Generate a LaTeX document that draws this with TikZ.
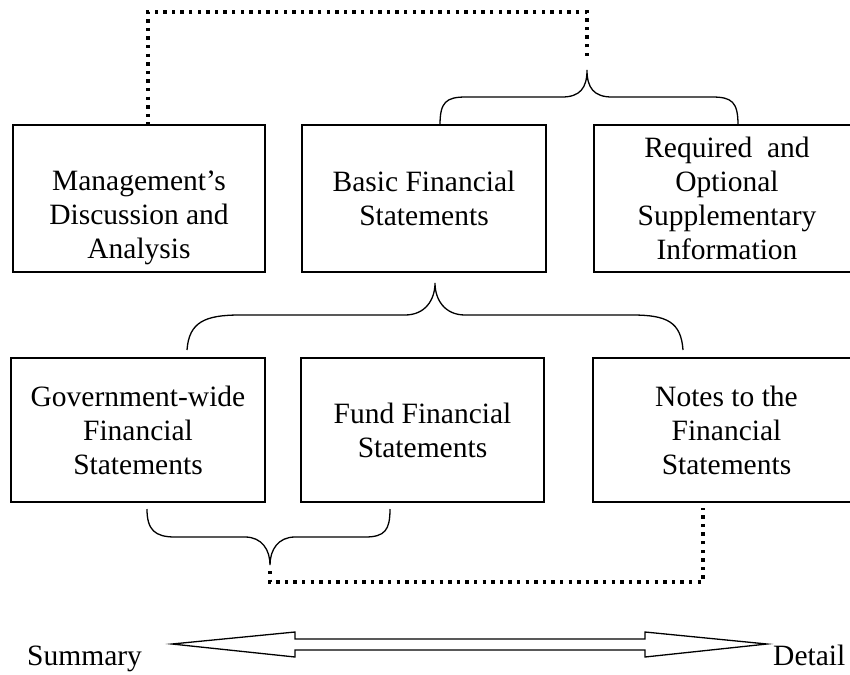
\documentclass[tikz,border=0pt]{standalone}
\usepackage{fontspec}
\setmainfont{Liberation Serif}
\begin{document}
\begin{tikzpicture}[x=1pt,y=-1pt,
  txt/.style={font=\fontsize{29.5}{34}\selectfont},
  box/.style={txt, draw, line width=1.1pt, rectangle, align=center, inner sep=0pt},
  brace/.style={draw, line width=1.3pt, line join=miter},
  dots/.style={draw, line width=3.4pt, dash pattern=on 3.4pt off 5.2pt},
  tag/.style={txt, inner sep=0pt},
  bigarrow/.style={draw, line width=1.3pt, line join=miter}]
\useasboundingbox (0,0) rectangle (850,674);
\clip (0,0) rectangle (850,674);

% upper row
\node[box, minimum width=252pt, minimum height=147pt] (mda) at (139,198.5)
  {\strut\\Management’s\\Discussion and\\Analysis};
\node[box, minimum width=244pt, minimum height=147pt] (bfs) at (424,198.5)
  {Basic Financial\\Statements};
\node[box, minimum width=266pt, minimum height=147pt] (rsi) at (727,198.5)
  {Required~ and\\Optional\\Supplementary\\Information};

% lower row
\node[box, minimum width=254pt, minimum height=144pt] (gw) at (138,430)
  {Government-wide\\Financial\\Statements};
\node[box, minimum width=243pt, minimum height=144pt] (ffs) at (422.5,430)
  {Fund Financial\\Statements};
\node[box, minimum width=267pt, minimum height=144pt] (nfs) at (726.5,430)
  {Notes to the\\Financial\\Statements};

% braces
\draw[brace] (440,125) .. controls (440,102) and (446,97) .. (466,97)
  -- (562,97) .. controls (580,97) and (587,88) .. (587,70)
  .. controls (587,88) and (594,97) .. (612,97)
  -- (712,97) .. controls (732,97) and (738,102) .. (738,125);
\draw[brace] (187,350) .. controls (189,322) and (205,315) .. (240,315)
  -- (405,315) .. controls (425,315) and (435,300) .. (435,283)
  .. controls (435,300) and (445,315) .. (465,315)
  -- (632,315) .. controls (667,315) and (681,322) .. (683,350);
\draw[brace] (147,509) .. controls (147,530) and (155,537) .. (175,537)
  -- (245,537) .. controls (262,537) and (270,550) .. (270,565)
  .. controls (270,550) and (278,537) .. (295,537)
  -- (365,537) .. controls (385,537) and (390,530) .. (390,509);

% dotted links
\coordinate (tdot) at (587,56);
\coordinate (tcorner) at (587,12);
\draw[dots] (tdot) -- (tcorner) -| ([xshift=9pt]mda.north);
\coordinate (bdot) at (270,571);
\coordinate (bcorner) at (270,582);
\draw[dots] (bdot) -- (bcorner) -| ([xshift=-23.5pt,yshift=-5pt]nfs.south);

% summary / detail scale
\node[tag, anchor=base west] (sum) at (27,665) {Summary};
\node[tag, anchor=base west] (det) at (773,665) {Detail};
\draw[bigarrow] (172,644) -- (295,632) -- (295,639) -- (645,639) -- (645,632)
  -- (767,644) -- (645,657) -- (645,650) -- (295,650) -- (295,657) -- cycle;
\end{tikzpicture}
\end{document}
